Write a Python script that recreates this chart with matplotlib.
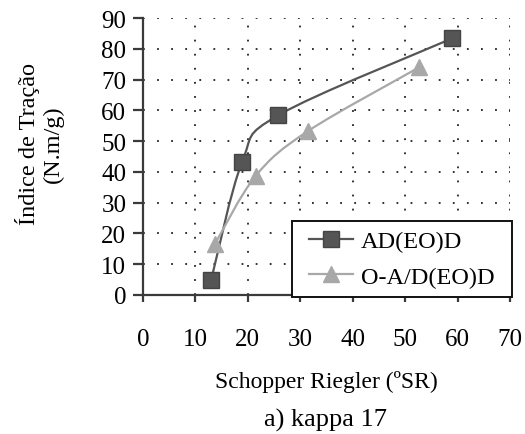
import numpy as np
import matplotlib
matplotlib.use("Agg")
import matplotlib.pyplot as plt
from matplotlib.path import Path
from matplotlib.patches import PathPatch, Rectangle
from matplotlib.lines import Line2D

plt.rcParams['font.family'] = ['Liberation Serif', 'DejaVu Serif']

# data
sr_ad = [13.0, 18.9, 25.8, 59.0]
ti_ad = [4.9, 43.2, 58.4, 83.4]
sr_oad = [13.7, 21.5, 31.5, 52.7]
ti_oad = [16.5, 38.7, 53.3, 74.0]
labels = ['AD(EO)D', 'O-A/D(EO)D']
xticks = [0, 10, 20, 30, 40, 50, 60, 70]
yticks = [0, 10, 20, 30, 40, 50, 60, 70, 80, 90]

dark = '#555555'
light = '#a8a8a8'


def smooth_path(xs, ys):
    # excel-like smoothed line (catmull-rom as cubic bezier segments)
    p = np.column_stack([xs, ys]).astype(float)
    n = len(p)
    verts = [p[0]]
    codes = [Path.MOVETO]
    for i in range(n - 1):
        p0 = p[i - 1] if i > 0 else p[i]
        p3 = p[i + 2] if i + 2 < n else p[i + 1]
        c1 = p[i] + (p[i + 1] - p0) / 6.0
        c2 = p[i + 1] - (p3 - p[i]) / 6.0
        verts += [c1, c2, p[i + 1]]
        codes += [Path.CURVE4] * 3
    return Path(verts, codes)


fig = plt.figure(figsize=(5.25, 4.35), dpi=100)
ax = fig.add_axes([143 / 525, 1 - 296 / 435, 367 / 525, 277 / 435])

ax.add_patch(PathPatch(smooth_path(sr_ad, ti_ad), facecolor='none',
                       edgecolor=dark, lw=1.6, zorder=3))
ax.add_patch(PathPatch(smooth_path(sr_oad, ti_oad), facecolor='none',
                       edgecolor=light, lw=1.6, zorder=3))
ax.plot(sr_ad, ti_ad, ls='none', marker='s', ms=12, mfc=dark, mec='#444444',
        zorder=4, clip_on=False)
ax.plot(sr_oad, ti_oad, ls='none', marker='^', ms=11, mfc=light, mec=light,
        zorder=4, clip_on=False)

ax.set_xlim(0, 70)
ax.set_ylim(0, 90)
ax.set_xticks(xticks)
ax.set_yticks(yticks)

ax.grid(True, color='#222222', lw=1.3, linestyle=(0, (1, 6.8)))
ax.set_axisbelow(True)

for s in ['top', 'right']:
    ax.spines[s].set_visible(False)
for s in ['left', 'bottom']:
    ax.spines[s].set_color('#3a3a3a')
    ax.spines[s].set_linewidth(1.6)

ax.tick_params(axis='y', direction='out', length=7, width=1.6, color='#3a3a3a',
               pad=5, labelsize=18)
ax.tick_params(axis='x', direction='out', length=5, width=1.6, color='#3a3a3a',
               pad=19, labelsize=18)

# legend box
lx0, ly0, lw_, lh = 0.406, -0.007, 0.599, 0.274
ax.add_patch(Rectangle((lx0, ly0), lw_, lh, transform=ax.transAxes,
                       facecolor='white', edgecolor='#111111', lw=1.4,
                       zorder=5, clip_on=False))
handles = [
    Line2D([], [], color=dark, lw=1.6, marker='s', ms=12, mfc=dark, mec='#444444'),
    Line2D([], [], color=light, lw=1.6, marker='^', ms=11, mfc=light, mec=light),
]
leg = ax.legend(handles, labels, loc='center', bbox_to_anchor=(lx0, ly0, lw_, lh),
                borderaxespad=0, fontsize=17.5, handlelength=1.8, handletextpad=0.35,
                labelspacing=0.55, borderpad=0.0, frameon=False)
leg.set_zorder(6)

fig.text(28 / 525, 1 - 144 / 435, 'Índice de Tração', rotation=90,
         ha='center', va='center', fontsize=17.5)
fig.text(53 / 525, 1 - 144 / 435, '(N.m/g)', rotation=90,
         ha='center', va='center', fontsize=17.5)
fig.text(326 / 525, 1 - 388 / 435, 'Schopper Riegler (ºSR)', ha='center',
         va='baseline', fontsize=17)
fig.text(325 / 525, 1 - 427 / 435, 'a) kappa 17', ha='center',
         va='baseline', fontsize=19)

fig.savefig('out.png', dpi=100)
